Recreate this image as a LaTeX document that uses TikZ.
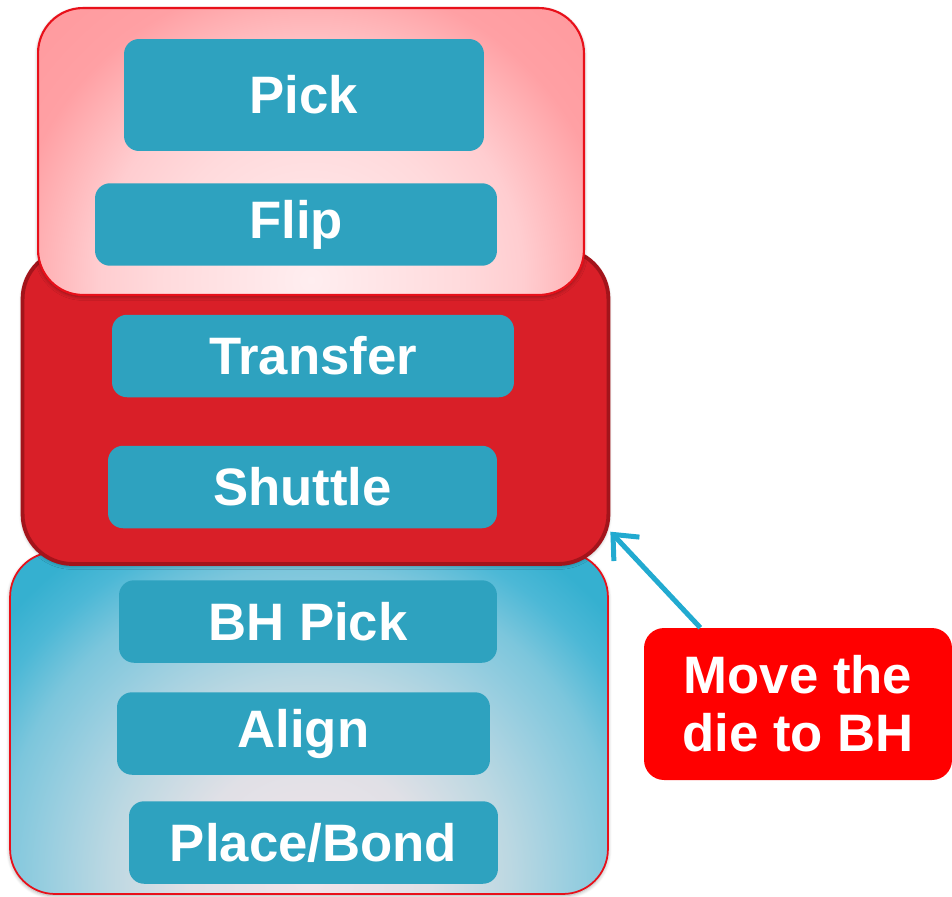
\documentclass[tikz,border=0pt]{standalone}
\usepackage{fontspec}
\setmainfont{Liberation Sans}
\usepackage{xcolor}
\usetikzlibrary{arrows.meta,shadows.blur}

\definecolor{stepteal}{HTML}{2EA2BF}
\definecolor{midred}{HTML}{D91F28}
\definecolor{midline}{HTML}{A3141B}
\definecolor{topline}{HTML}{E8101A}
\definecolor{pinkedge}{HTML}{FF9A9E}
\definecolor{blueedge}{HTML}{35B0D0}
\definecolor{notered}{HTML}{FF0000}
\definecolor{pointer}{HTML}{22AAD0}

% glow spots, laid on a circle round the lower middle of a panel
\pgfdeclareradialshading{pinkglow}{\pgfpoint{0bp}{0bp}}{%
  color(0bp)=(rgb,255:red,255;green,238;blue,240);
  color(10bp)=(rgb,255:red,255;green,218;blue,220);
  color(14bp)=(rgb,255:red,255;green,205;blue,208);
  color(17.5bp)=(rgb,255:red,255;green,179;blue,182);
  color(20bp)=(rgb,255:red,255;green,160;blue,164);
  color(25bp)=(pinkedge); color(50bp)=(pinkedge)}
\pgfdeclareradialshading{blueglow}{\pgfpoint{0bp}{0bp}}{%
  color(0bp)=(rgb,255:red,242;green,228;blue,234);
  color(7.5bp)=(rgb,255:red,224;green,224;blue,230);
  color(12.5bp)=(rgb,255:red,188;green,216;blue,226);
  color(16bp)=(rgb,255:red,156;green,207;blue,224);
  color(19.5bp)=(rgb,255:red,124;green,198;blue,220);
  color(22.5bp)=(rgb,255:red,76;green,184;blue,214);
  color(25bp)=(blueedge); color(50bp)=(blueedge)}

\begin{document}
\begin{tikzpicture}[
    x=0.02cm, y=-0.02cm,
    panel/.style={rounded corners=0.9cm, blur shadow={shadow xshift=0pt, shadow yshift=-1pt, shadow blur steps=6, shadow opacity=35}},
    glow/.style 2 args={path picture={\shade[shading=#1] ([yshift=0.3cm]path picture bounding box.south) circle (#2);}},
    stepbox/.style={fill=stepteal, rounded corners=0.3cm, text=white, font=\bfseries\fontsize{30}{33}\selectfont, minimum height=1.65cm},
    note/.style={fill=notered, rounded corners=0.4cm, text=white, align=center, font=\bfseries\fontsize{30}{33}\selectfont},
    arr/.style={-{Straight Barb[length=4mm,width=7mm]}, line width=0.1cm, draw=pointer},
]
    \useasboundingbox (0,0) rectangle (952,896);

    % Panels (back to front)
    \node[panel, draw=topline, line width=1pt, fill=blueedge, glow={blueglow}{8cm}, minimum width=11.96cm, minimum height=6.84cm] (bond) at (309,723) {};
    \node[panel, rounded corners=1cm, draw=midline, line width=2.2pt, fill=midred, minimum width=11.72cm, minimum height=6.3cm] (move) at (315.5,406.5) {};
    \node[panel, draw=topline, line width=1.2pt, fill=pinkedge, glow={pinkglow}{7.6cm}, minimum width=10.92cm, minimum height=5.74cm] (pick) at (311,151.5) {};

    % Pick stage
    \node[stepbox, minimum width=7.2cm, minimum height=2.24cm] (s_pick) at (304,95) {Pick};
    \node[stepbox, minimum width=8.04cm] (s_flip) at (296,224.5) {Flip};

    % Move stage
    \node[stepbox, minimum width=8.04cm] (s_transfer) at (313,356) {Transfer};
    \node[stepbox, minimum width=7.78cm] (s_shuttle) at (302.5,487) {Shuttle};

    % Bond stage
    \node[stepbox, minimum width=7.56cm] (s_bhpick) at (308,621.5) {BH Pick};
    \node[stepbox, minimum width=7.46cm] (s_align) at (303.5,733.5) {Align};
    \node[stepbox, minimum width=7.38cm] (s_place) at (313.5,842.5) {Place/Bond};

    % Callout
    \node[note, minimum width=6.16cm, minimum height=3.04cm] (hint) at (798,704) {Move the\\die to BH};
    \draw[arr] (hint.142) -- (move.-23);
\end{tikzpicture}
\end{document}
